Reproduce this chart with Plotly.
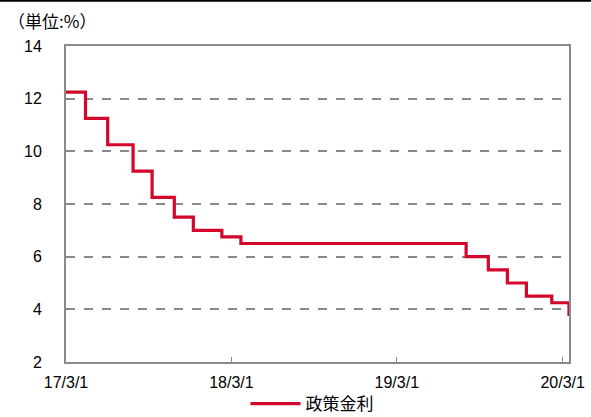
import plotly.graph_objects as go

dates = ["2017-03-01", "2017-04-13", "2017-06-01", "2017-07-27", "2017-09-07",
         "2017-10-26", "2017-12-07", "2018-02-08", "2018-03-22", "2019-08-01",
         "2019-09-19", "2019-10-31", "2019-12-12", "2020-02-06", "2020-03-15"]
rates = [12.25, 11.25, 10.25, 9.25, 8.25, 7.50, 7.00, 6.75, 6.50, 6.00,
         5.50, 5.00, 4.50, 4.25, 3.75]
tick_dates = ["2017-03-01", "2018-03-01", "2019-03-01", "2020-03-01"]
tick_labels = ["17/3/1", "18/3/1", "19/3/1", "20/3/1"]
series_name = "政策金利"
unit_label = "（単位:%）"

fig = go.Figure()
fig.add_trace(go.Scatter(
    x=dates, y=rates, mode="lines", line_shape="hv",
    line=dict(color="#D3062C", width=3.2), name=series_name,
))

grey = "#8a8a8a"
fig.update_layout(
    width=591, height=417,
    margin=dict(l=66, r=22, t=46, b=55, autoexpand=False),
    paper_bgcolor="white", plot_bgcolor="white",
    font=dict(family="Noto Sans CJK JP, Liberation Sans, sans-serif", color="black"),
    showlegend=True,
    legend=dict(orientation="h", xref="container", yref="container",
                x=312/591, xanchor="center", y=(417-404)/417, yanchor="middle",
                font=dict(size=17), itemwidth=50, tracegroupgap=0,
                bgcolor="rgba(0,0,0,0)"),
    xaxis=dict(
        type="date", range=["2017-03-01", "2020-03-15"],
        tickvals=tick_dates, ticktext=tick_labels,
        showgrid=False, zeroline=False,
        showline=True, linecolor=grey, linewidth=2, mirror=True,
        ticks="inside", ticklen=5, tickcolor=grey, tickwidth=1,
        ticklabelstandoff=5,
        tickfont=dict(size=16, family="Liberation Sans, sans-serif"),
    ),
    yaxis=dict(
        range=[2, 14], dtick=2, tick0=2,
        showgrid=True, gridcolor=grey, griddash="dash", gridwidth=1.5,
        zeroline=False,
        showline=True, linecolor=grey, linewidth=2, mirror=True,
        ticks="inside", ticklen=5, tickcolor=grey, tickwidth=1,
        ticklabelstandoff=19,
        tickfont=dict(size=16, family="Liberation Sans, sans-serif"),
    ),
)

fig.add_annotation(text=unit_label, xref="paper", yref="paper",
                   x=-60/503, y=(362-20)/316, xanchor="left", yanchor="middle",
                   showarrow=False, font=dict(size=17, family="Noto Sans CJK JP"))
fig.add_shape(type="line", xref="paper", yref="paper",
              x0=-66/503, x1=(591-66)/503, y0=(362-0.8)/316, y1=(362-0.8)/316,
              line=dict(color="black", width=2))

fig.write_html("out.html", config={"displayModeBar": False},
               post_script="document.body.style.margin='0';")
